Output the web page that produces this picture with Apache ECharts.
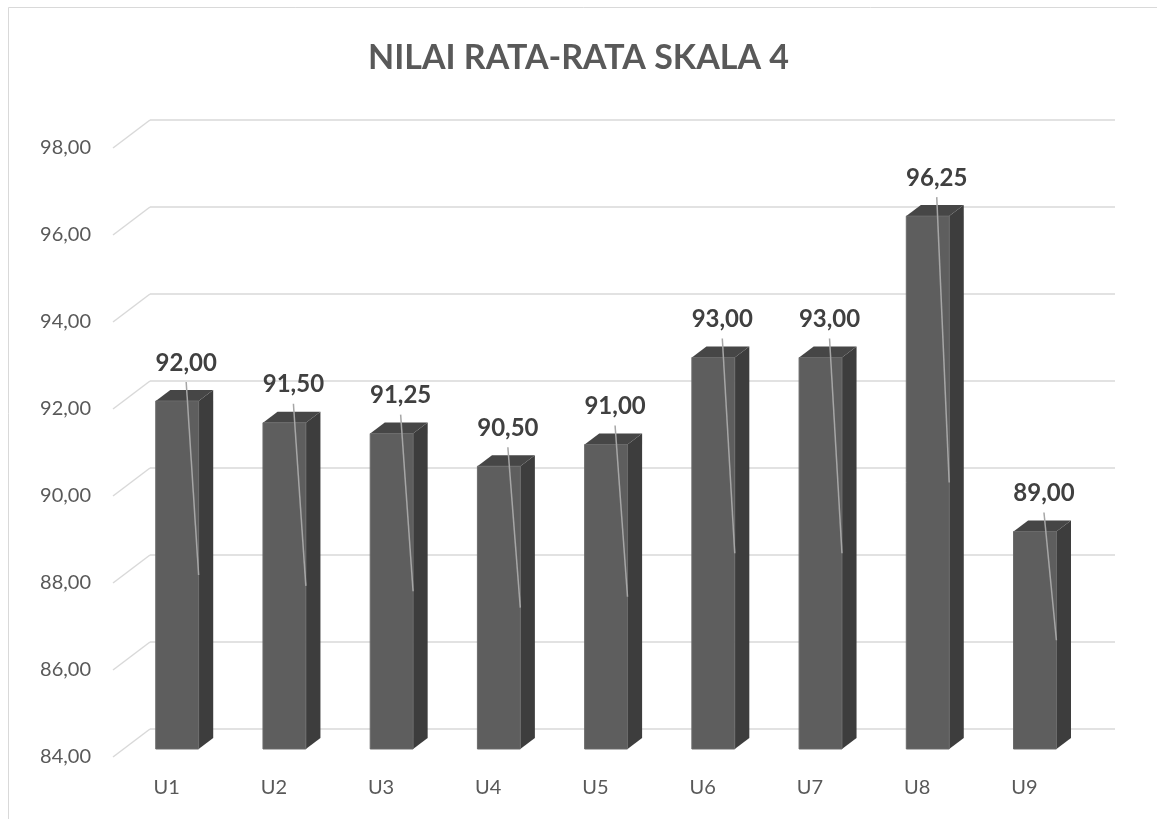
<!DOCTYPE html>
<html>
<head>
<meta charset="utf-8">
<script src="https://cdn.jsdelivr.net/npm/echarts@6/dist/echarts.min.js"></script>
<style>
html,body{margin:0;padding:0;background:#fff;}
#chart{width:1157px;height:819px;}
</style>
</head>
<body>
<div id="chart"></div>
<script>
// ---- data ----
const chartTitle = 'NILAI RATA-RATA SKALA 4';
const categories = ['U1', 'U2', 'U3', 'U4', 'U5', 'U6', 'U7', 'U8', 'U9'];
const values = [92.00, 91.50, 91.25, 90.50, 91.00, 93.00, 93.00, 96.25, 89.00];
const yTicks = [84, 86, 88, 90, 92, 94, 96, 98];

// ---- layout / style constants ----
const Y_MIN = 84, Y_MAX = 98, Y_STEP = 2;
const DX = 37, DY = 28;          // floor depth (front edge -> back wall)
const BAR_D0 = 0.286, BAR_D1 = 0.68; // bar depth range
const fmt = v => v.toFixed(2).replace('.', ',');

const chart = echarts.init(document.getElementById('chart'));

const option = {
  backgroundColor: '#ffffff',
  animation: false,
  title: {
    text: chartTitle,
    left: 'center',
    top: 36,
    textStyle: { fontFamily: 'Lato', fontWeight: 'bold', fontSize: 34, color: '#595959' }
  },
  graphic: [{
    type: 'rect', silent: true, z: -10,
    shape: { x: 8.5, y: 7.5, width: 1300, height: 1000 },
    style: { fill: null, stroke: '#d9d9d9', lineWidth: 1 }
  }],
  grid: [
    { left: 150, top: 120, width: 965, height: 609 },  // back wall
    { left: 113, top: 148, width: 965, height: 609 }   // floor front
  ],
  xAxis: [
    { gridIndex: 0, type: 'category', data: categories, show: false },
    {
      gridIndex: 1, type: 'category', data: categories,
      axisLine: { show: false }, axisTick: { show: false },
      axisLabel: { color: '#595959', fontFamily: 'Lato', fontSize: 20, margin: 21 }
    }
  ],
  yAxis: [
    {
      gridIndex: 0, type: 'value', min: Y_MIN, max: Y_MAX, interval: Y_STEP,
      axisLabel: { show: false }, axisLine: { show: false }, axisTick: { show: false },
      splitLine: { lineStyle: { color: '#d9d9d9', width: 1.5 } }
    },
    {
      gridIndex: 1, type: 'value', min: Y_MIN, max: Y_MAX, interval: Y_STEP,
      axisLine: { show: false }, axisTick: { show: false }, splitLine: { show: false },
      axisLabel: { color: '#595959', fontFamily: 'Lato', fontSize: 20, margin: 22, formatter: fmt }
    }
  ],
  series: [
    {
      // diagonal floor/side lines joining front edge to back wall gridlines
      type: 'custom', xAxisIndex: 1, yAxisIndex: 1, z: 1,
      data: yTicks.map(v => [0, v]),
      renderItem: function (params, api) {
        const p = api.coord([0, api.value(1)]);
        const x0 = params.coordSys.x;
        return {
          type: 'line',
          shape: { x1: x0, y1: p[1], x2: x0 + DX, y2: p[1] - DY },
          style: { stroke: '#d9d9d9', lineWidth: 1.5 }
        };
      }
    },
    {
      type: 'custom', xAxisIndex: 1, yAxisIndex: 1, z: 5,
      data: values.map((v, i) => [i, v]),
      renderItem: function (params, api) {
        const idx = api.value(0), v = api.value(1);
        const base = api.coord([idx, Y_MIN]);
        const top = api.coord([idx, v]);
        const cw = api.size([1, 0])[0];
        const w = cw * 0.40;
        const fx = base[0] + BAR_D0 * DX - w / 2;
        const fb = base[1] - BAR_D0 * DY;
        const ft = top[1] - BAR_D0 * DY;
        const ddx = (BAR_D1 - BAR_D0) * DX, ddy = (BAR_D1 - BAR_D0) * DY;
        const lx = fx + w / 2 + 9, ly = ft - 38;
        return {
          type: 'group',
          children: [
            { type: 'polygon', shape: { points: [[fx + w, ft], [fx + w + ddx, ft - ddy], [fx + w + ddx, fb - ddy], [fx + w, fb]] },
              style: { fill: '#3d3d3d' } },
            { type: 'polygon', shape: { points: [[fx, ft], [fx + ddx, ft - ddy], [fx + w + ddx, ft - ddy], [fx + w, ft]] },
              style: { fill: '#464646' } },
            { type: 'rect', shape: { x: fx, y: ft, width: w, height: fb - ft },
              style: { fill: '#5e5e5e', stroke: '#6a6a6a', lineWidth: 1 } },
            { type: 'line', shape: { x1: lx, y1: ly + 19, x2: fx + w, y2: (ft + fb) / 2 },
              style: { stroke: '#a6a6a6', lineWidth: 1.5 } },
            { type: 'text', x: lx, y: ly,
              style: { text: fmt(v), fill: '#404040', font: 'bold 24px Lato', align: 'center', verticalAlign: 'middle' } }
          ]
        };
      }
    }
  ]
};
chart.setOption(option);
</script>
</body>
</html>
